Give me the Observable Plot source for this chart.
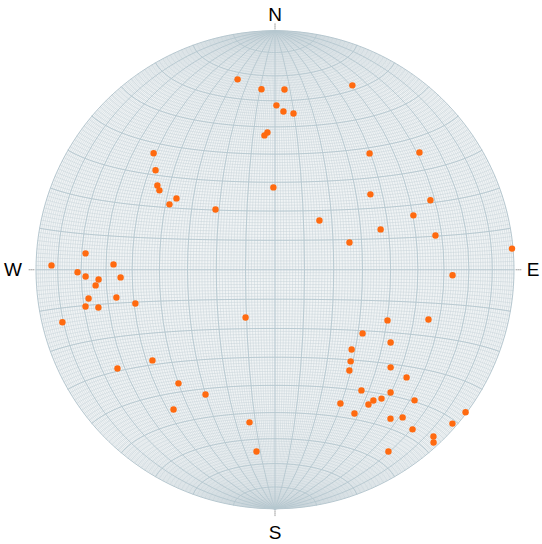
<!DOCTYPE html>
<html><head><meta charset="utf-8">
<script src="https://cdn.jsdelivr.net/npm/d3@7"></script>
<script src="https://cdn.jsdelivr.net/npm/@observablehq/plot@0.6"></script>
<style>body{margin:0;background:#fff}</style>
</head><body><div id="chart"></div>
<script>
// Point longitudes / latitudes (degrees) on the equal-area net
const lon = [-28.0,-9.0,6.3,50.9,0.8,4.5,9.7,-3.5,-4.8,-51.0,39.6,61.1,-47.4,-44.8,-43.5,-0.6,-36.3,-38.5,35.4,58.2,
  -21.3,50.2,15.6,37.2,57.5,25.7,89.5,-68.4,-57.1,-82.8,-71.5,-68.2,-63.0,-54.4,-64.3,63.4,-67.6,-56.5,-49.5,-69.3,
  -64.1,-80.5,-10.3,40.2,55.7,31.7,42.9,28.6,29.1,-47.5,-63.1,45.6,29.4,53.7,-40.0,36.8,-30.1,49.7,43.8,47.0,
  42.4,29.6,62.1,89.4,37.9,-47.2,56.3,61.6,87.4,-13.0,70.7,83.9,86.8,-12.5,69.3];
const lat = [67.3,64.4,64.4,61.6,58.2,55.8,54.9,47.9,46.8,36.7,38.1,35.4,31.5,26.8,25.3,28.2,23.2,21.1,24.6,20.8,
  20.2,16.8,16.6,13.0,10.2,9.0,5.1,4.6,1.6,1.1,-0.7,-1.9,-2.8,-2.3,-4.5,-1.6,-8.1,-8.3,-10.4,-10.3,
  -10.9,-13.7,-16.2,-16.2,-15.0,-20.9,-23.2,-26.5,-30.5,-28.6,-29.2,-31.1,-33.6,-33.4,-37.1,-39.9,-42.0,-39.0,-42.6,-41.5,
  -44.2,-45.3,-39.6,-36.8,-48.0,-45.3,-47.0,-45.5,-40.9,-53.4,-47.6,-46.3,-47.4,-64.8,-56.3];
const dirLabels = ["N", "E", "S", "W"];
const dirLon = [0, 89.99, 0, -89.99];
const dirLat = [89.99, 0, -89.99, 0];

const points = lon.map((d, i) => ({lon: d, lat: lat[i]}));
const dirs = dirLabels.map((t, i) => ({t, lon: dirLon[i], lat: dirLat[i]}));
const rot = {N: 0, E: 90, S: 180, W: 270};
const off = {N: [0, -2], E: [2, 0], S: [0, 2], W: [-2, 0]};
const loff = {N: [0, -16], E: [19, 0], S: [0, 24], W: [-23, 0]};

const minor = d3.geoGraticule().extent([[-180, -90], [180, 90]]).step([1, 1])();
const major = d3.geoGraticule().extent([[-180, -90], [180, 90]]).step([10, 10])();
const tickShape = {draw(context, l) { context.moveTo(0, 0); context.lineTo(0, -l); }};

const marks = [
  Plot.sphere({fill: "#f1f4f5", stroke: "none"}),
  Plot.geo(minor, {stroke: "#c6d3d9", strokeWidth: 0.5}),
  Plot.geo(major, {stroke: "#b6c7cf", strokeWidth: 0.9}),
  Plot.sphere({stroke: "#b6c7cf", strokeWidth: 1}),
  Plot.dot(points, {x: "lon", y: "lat", r: 3.2, fill: "#ff6a10", stroke: "none"})
];
for (const d of dirs) {
  marks.push(Plot.vector([d], {x: "lon", y: "lat", length: 6, rotate: rot[d.t], anchor: "start",
    shape: tickShape, stroke: "#a0a0a0", strokeWidth: 1, strokeDasharray: "1,1",
    dx: off[d.t][0], dy: off[d.t][1]}));
  marks.push(Plot.text([d], {x: "lon", y: "lat", text: "t", dx: loff[d.t][0], dy: loff[d.t][1],
    fontSize: 19, fill: "#000", fontFamily: "Liberation Sans, Arial, sans-serif"}));
}

const plot = Plot.plot({
  width: 542, height: 544,
  marginLeft: 35.5, marginRight: 28.5, marginTop: 30, marginBottom: 35.5,
  projection: {type: "azimuthal-equal-area", domain: {type: "Sphere"}, clip: 90},
  marks
});
document.getElementById("chart").append(plot);
</script>
</body></html>
